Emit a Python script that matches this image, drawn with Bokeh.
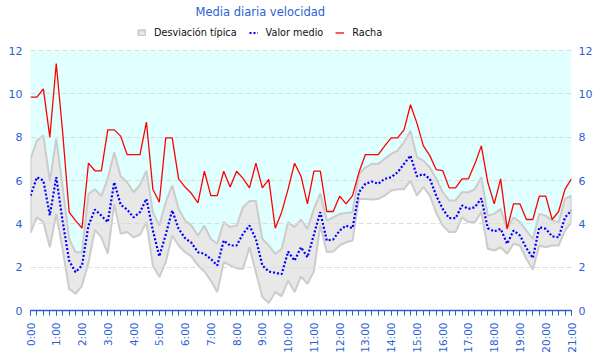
import numpy as np
from bokeh.plotting import figure
from bokeh.models import (Range1d, FixedTicker, LinearAxis, Legend, LegendItem, ColumnDataSource)
from bokeh.embed import file_html
from bokeh.resources import INLINE

# ---- data (15-minute steps from 0:00 to 21:00) ----
racha = [9.85, 9.85, 10.23, 8.0, 11.4, 8.2, 4.54, 4.15, 3.8, 6.8, 6.45, 6.45, 8.34, 8.34, 8.05, 7.2,
         7.2, 7.2, 8.7, 5.6, 5.0, 7.97, 7.97, 6.08, 5.7, 5.4, 4.97, 6.43, 5.3, 5.3, 6.43, 5.7,
         6.43, 6.1, 5.66, 6.8, 5.66, 6.05, 3.8, 4.54, 5.6, 6.8, 6.2, 4.92, 6.43, 6.43, 4.57, 4.57,
         5.28, 4.92, 5.3, 6.38, 7.2, 7.2, 7.2, 7.6, 7.97, 7.97, 8.34, 9.5, 8.65, 7.6, 7.15, 6.5,
         6.46, 5.66, 5.66, 6.08, 6.08, 6.77, 7.6, 5.92, 4.92, 6.08, 3.77, 4.92, 4.92, 4.2, 4.2,
         5.28, 5.28, 4.2, 4.57, 5.6, 6.08]
media = [5.3, 6.15, 6.0, 4.4, 6.15, 4.1, 2.3, 1.77, 2.08, 3.92, 4.66, 4.38, 4.08, 5.92, 4.88, 4.66,
         4.3, 4.54, 5.15, 3.7, 2.5, 3.5, 4.62, 3.77, 3.34, 3.12, 2.69, 2.62, 2.38, 2.08, 3.23, 3.0,
         3.0, 3.54, 3.92, 3.3, 2.08, 1.8, 1.74, 1.68, 2.72, 2.3, 2.92, 2.46, 3.5, 4.54, 3.23, 3.28,
         3.69, 3.92, 3.8, 5.46, 5.85, 5.95, 5.85, 6.08, 6.15, 6.38, 6.77, 7.15, 6.2, 6.3, 6.08, 5.3,
         4.69, 4.26, 4.26, 4.85, 4.69, 4.77, 5.18, 3.8, 3.65, 3.77, 3.08, 3.69, 3.46, 2.88, 2.42,
         3.85, 3.77, 3.42, 3.38, 4.3, 4.62]
desv_sup = [7.0, 7.85, 8.08, 5.95, 7.92, 5.7, 3.3, 2.69, 2.69, 5.38, 5.6, 5.28, 6.1, 7.3, 6.2, 5.92,
            5.46, 5.8, 6.46, 4.54, 3.92, 5.0, 5.77, 4.69, 4.15, 3.92, 3.46, 3.92, 3.3, 3.08, 4.08, 3.85,
            3.92, 4.77, 5.05, 5.05, 3.3, 3.0, 2.62, 2.85, 4.08, 3.85, 4.2, 3.77, 4.69, 5.4, 4.15, 4.3,
            4.45, 4.5, 4.54, 6.3, 6.6, 6.77, 6.77, 7.0, 7.23, 7.38, 7.77, 8.3, 7.08, 6.92, 6.6, 6.08,
            5.46, 5.08, 5.08, 5.46, 5.46, 5.6, 6.15, 4.38, 4.46, 4.69, 3.77, 4.3, 4.08, 3.69, 3.3,
            4.46, 4.38, 4.15, 4.08, 5.15, 5.3]
desv_inf = [3.58, 4.3, 4.08, 2.92, 4.46, 2.8, 1.0, 0.77, 1.15, 2.2, 3.72, 3.38, 2.62, 4.92, 3.54, 3.62,
            3.38, 3.49, 4.08, 2.08, 1.54, 2.23, 3.46, 3.0, 2.69, 2.5, 2.08, 1.8, 1.38, 0.85, 2.23, 2.08,
            1.95, 1.92, 2.92, 1.77, 0.62, 0.35, 0.85, 0.66, 1.38, 0.85, 1.58, 1.23, 1.8, 3.95, 2.7, 2.72,
            3.0, 3.15, 3.23, 5.15, 5.15, 5.12, 5.15, 5.3, 5.54, 5.6, 5.6, 6.0, 5.3, 5.7, 5.3, 4.5,
            3.92, 3.62, 3.62, 4.3, 4.08, 4.08, 4.54, 2.85, 2.77, 2.92, 2.62, 3.08, 3.0, 2.38, 1.89,
            3.0, 2.92, 3.0, 3.0, 3.69, 4.08]
horas = [i * 0.25 for i in range(len(racha))]
hour_ticks = list(range(0, 22))
hour_labels = {h: f"{h}:00" for h in hour_ticks}
y_ticks = [0, 2, 4, 6, 8, 10, 12]
y_top = 12
y_view_max = 13.48   # extra room above 12 that holds the legend row

BLUE = "#2c5fd6"
FONT = "DejaVu Sans"

p = figure(width=600, height=360, output_backend="svg", toolbar_location=None,
           x_range=Range1d(0, 21), y_range=Range1d(0, y_view_max),
           min_border_left=30, min_border_right=29, min_border_top=18, min_border_bottom=50)
p.outline_line_color = None
p.background_fill_color = "white"
p.border_fill_color = "white"

src = ColumnDataSource(dict(x=horas, r=racha, m=media, hi=desv_sup, lo=desv_inf,
                            top=[y_top] * len(horas)))

# cyan zone above lower deviation
p.varea(x="x", y1="lo", y2="top", source=src, fill_color="#e0ffff", level="image")
# deviation band
band_x = horas + horas[::-1]
band_y = desv_sup + desv_inf[::-1]
band = p.patch(band_x, band_y, fill_color="#e8e8e8", line_color="#cccccc", line_width=2, level="image")
media_r = p.line(x="x", y="m", source=src, line_color="#0000ff", line_width=2.2, line_dash="2 2")
racha_r = p.line(x="x", y="r", source=src, line_color="#ff0000", line_width=1.3)

# grid
p.xgrid.visible = False
p.ygrid.ticker = FixedTicker(ticks=y_ticks)
p.ygrid.grid_line_color = "#dcdcdc"
p.ygrid.grid_line_dash = "5 3"
p.ygrid.grid_line_width = 1

# axes
xa = p.xaxis[0]
xa.ticker = FixedTicker(ticks=hour_ticks, minor_ticks=[h * 0.25 for h in range(0, 85)])
xa.major_label_overrides = hour_labels
xa.major_label_orientation = np.pi / 2
xa.axis_line_color = BLUE
xa.axis_line_width = 1.5
xa.major_tick_line_color = BLUE
xa.minor_tick_line_color = BLUE
xa.major_tick_out = 5
xa.major_tick_in = 0
xa.minor_tick_out = 5
xa.minor_tick_in = 0
xa.major_label_text_color = BLUE
xa.major_label_text_font = FONT
xa.major_label_text_font_size = "10.5px"
xa.major_label_standoff = 7

def style_y(ax):
    ax.ticker = FixedTicker(ticks=y_ticks)
    ax.axis_line_color = None
    ax.major_tick_line_color = None
    ax.minor_tick_line_color = None
    ax.major_tick_out = 0
    ax.major_label_text_color = BLUE
    ax.major_label_text_font = FONT
    ax.major_label_text_font_size = "11px"
    ax.major_label_standoff = 8

style_y(p.yaxis[0])
ra = LinearAxis()
style_y(ra)
ra.major_label_standoff = 7
p.add_layout(ra, "right")

# legend row, inside the frame above the 12 line
legend = Legend(items=[LegendItem(label="Desviación típica", renderers=[band]),
                       LegendItem(label="Valor medio", renderers=[media_r]),
                       LegendItem(label="Racha", renderers=[racha_r])],
                orientation="horizontal", location=(107, 272),
                label_text_font=FONT, label_text_font_size="9.7px", label_text_color="#111111",
                glyph_width=9, glyph_height=7, label_standoff=8, spacing=12,
                padding=2, margin=0, border_line_color=None, background_fill_alpha=0)
p.add_layout(legend, "center")

p.title.text = "Media diaria velocidad"
p.title.text_font = FONT
p.title.text_font_size = "11.5px"
p.title.text_font_style = "normal"
p.title.text_color = BLUE
p.title.align = "left"
p.title.offset = 165
p.title.standoff = 0

open("out.html", "w").write(file_html(p, INLINE))
